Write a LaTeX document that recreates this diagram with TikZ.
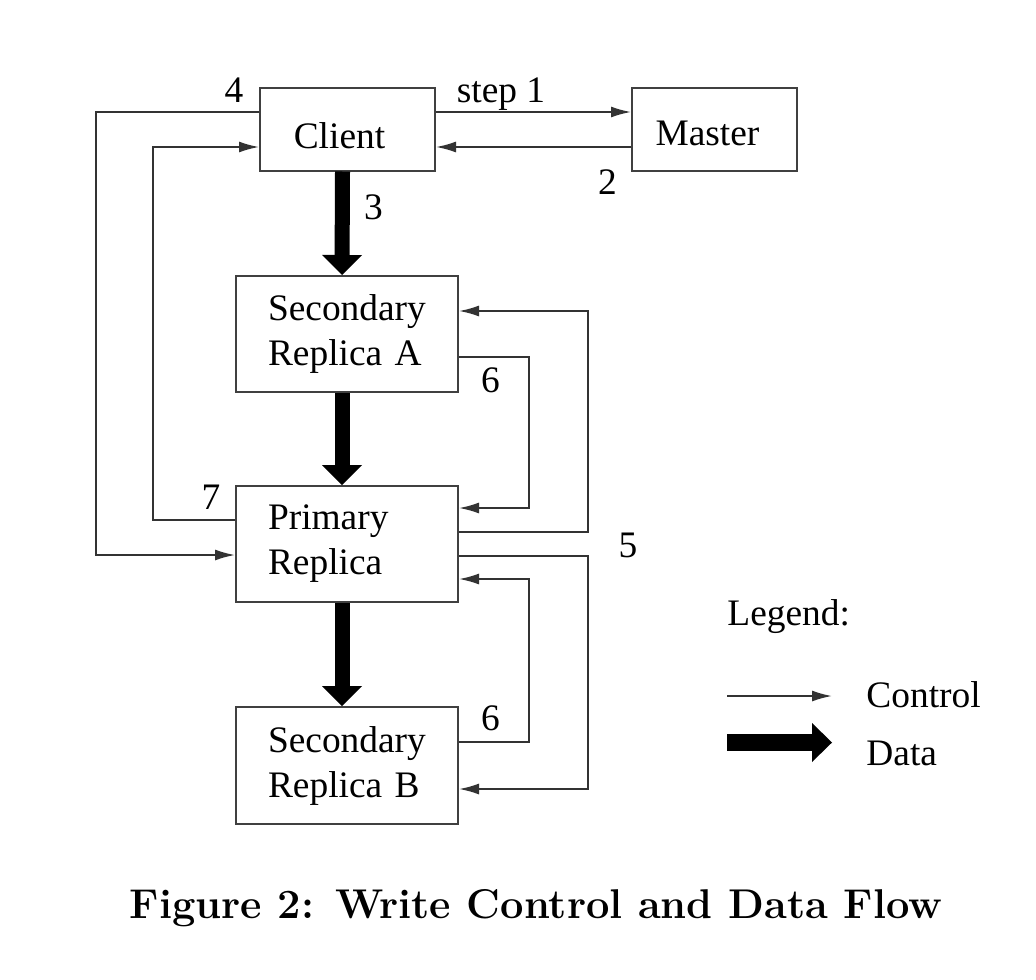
\documentclass[tikz,border=0pt]{standalone}
\usepackage{fontspec}
\newfontfamily\tms{Liberation Serif}
\usetikzlibrary{arrows.meta}
\tikzset{
  box/.style={draw=black!75, line width=1pt, inner sep=0pt, font=\tms\fontsize{18.7}{22.5}\selectfont},
  rbox/.style={minimum width=111pt, minimum height=58pt, text width=79pt, align=left},
  lbl/.style={inner sep=0pt, font=\tms\fontsize{18.7}{22.5}\selectfont},
  ctrl/.style={draw=black!80, line width=0.9pt, -{Latex[length=10pt,width=5.5pt]}},
  data/.style={draw=black, line width=7.5pt, -{Triangle[length=10pt,width=20pt,line width=0pt]}}
}
\begin{document}
\begin{tikzpicture}[x=0.5pt,y=-0.5pt]
\useasboundingbox (0,0) rectangle (1036,979);
\fill[white] (0,0) rectangle (1036,979);

% boxes
\node[box, minimum width=87.5pt, minimum height=41pt, text height=18.5pt, text depth=0pt] (client) at (347.5,129.5) {Client\hspace*{8pt}};
\node[box, minimum width=82.5pt, minimum height=41pt, text height=16pt, text depth=0pt] (master) at (714.5,129.5) {Master\hspace*{7pt}};
\node[box, rbox] (secA) at (347,334) {Secondary\\Replica A};
\node[box, rbox] (prim) at (347,544) {Primary\\Replica};
\node[box, rbox, minimum height=58.5pt] (secB) at (347,765.5) {Secondary\\Replica B};

% data flow
\draw[data] ([xshift=-2.5pt]client.south) -- ([xshift=-2.5pt]secA.north);
\draw[data] ([xshift=-2.5pt]secA.south) -- ([xshift=-2.5pt]prim.north);
\draw[data] ([xshift=-2.5pt]prim.south) -- ([xshift=-2.5pt]secB.north);

% control flow
\draw[ctrl] ([yshift=8.75pt]client.east) -- ([yshift=8.75pt]master.west);
\draw[ctrl] ([yshift=-8.75pt]master.west) -- ([yshift=-8.75pt]client.east);
\draw[ctrl] ([yshift=8.75pt]client.west) -- ++(-163,0) |- ([yshift=-5.5pt]prim.west);
\draw[ctrl] ([yshift=12pt]prim.west) -- ++(-82,0) |- ([yshift=-8.75pt]client.west);
\draw[ctrl] ([yshift=6pt]prim.east) -- ++(129,0) |- ([yshift=11.5pt]secA.east);
\draw[ctrl] ([yshift=-11.5pt]secA.east) -- ++(70,0) |- ([yshift=18pt]prim.east);
\draw[ctrl] ([yshift=-6pt]prim.east) -- ++(129,0) |- ([yshift=-11.75pt]secB.east);
\draw[ctrl] ([yshift=11.75pt]secB.east) -- ++(70,0) |- ([yshift=-17.5pt]prim.east);

% step labels
\node[lbl, anchor=base] (l4) at (234,102) {4};
\node[lbl, anchor=base] (l1) at (501,102) {step 1};
\node[lbl, anchor=base] (l2) at (607.5,194) {2};
\node[lbl, anchor=base] (l3) at (373.5,219) {3};
\node[lbl, anchor=base] (l6a) at (490.5,392) {6};
\node[lbl, anchor=base] (l7) at (211,509) {7};
\node[lbl, anchor=base] (l5) at (628,557) {5};
\node[lbl, anchor=base] (l6b) at (490.5,730) {6};

% legend
\node[lbl, anchor=base west] (leg) at (727,625) {Legend:};
\coordinate (c1) at (727,696);
\coordinate (c2) at (832,696);
\draw[ctrl] (c1) -- (c2);
\node[lbl, anchor=base west] (ctl) at (866,707) {Control};
\coordinate (d1) at (727,742.5);
\coordinate (d2) at (832,742.5);
\draw[data, line width=8.5pt, -{Triangle[length=10pt,width=19.5pt,line width=0pt]}] (d1) -- (d2);
\node[lbl, anchor=base west] (dat) at (866,765) {Data};

% caption
\node[anchor=base, inner sep=0pt, font=\fontsize{20.8}{24}\selectfont\bfseries] (cap) at (536,918) {Figure 2: Write Control and Data Flow};
\end{tikzpicture}
\end{document}
